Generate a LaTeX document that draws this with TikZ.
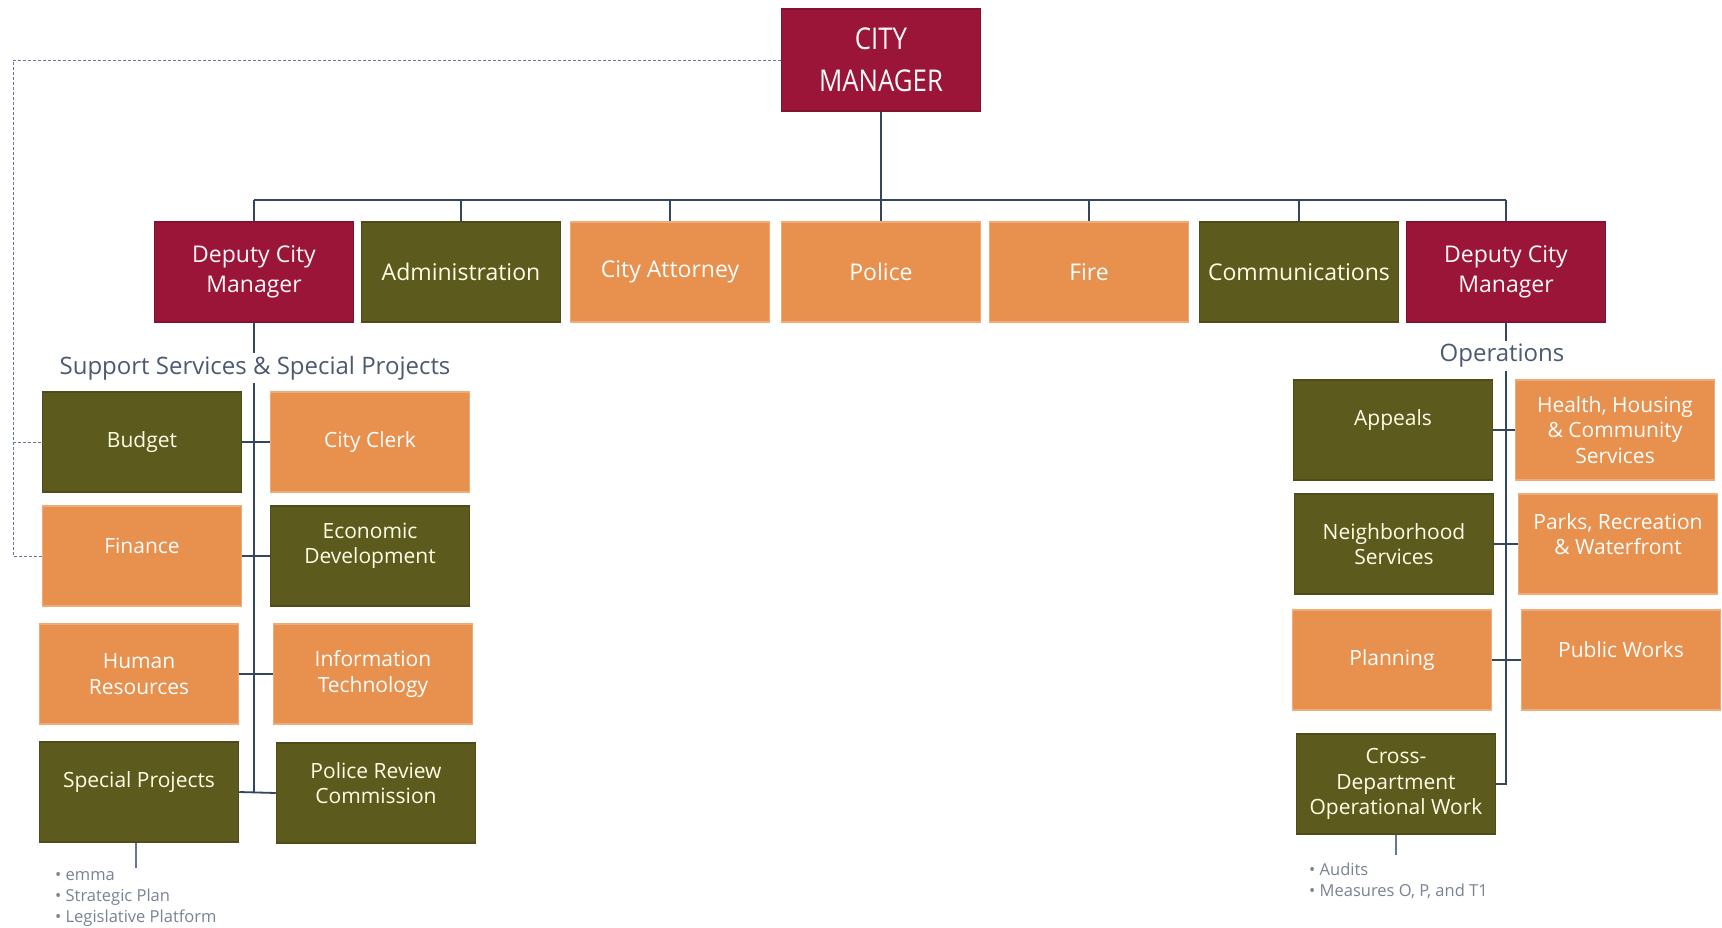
\documentclass[tikz,border=0pt]{standalone}
\usepackage{fontspec}
\setmainfont{Open Sans}
\newfontfamily\cmfont[FakeStretch=0.86]{Open Sans}

\definecolor{cmred}{HTML}{9A1538}
\definecolor{cmolive}{HTML}{5C5A1C}
\definecolor{cmorange}{HTML}{E8904E}
\definecolor{cmline}{HTML}{34465E}
\definecolor{cmdash}{HTML}{64769A}
\definecolor{cmtext}{HTML}{4C5A70}

% text a little above the middle of its box
\newcommand{\liftup}[1]{\raisebox{10pt}[\height][\depth]{#1}}

\tikzset{
  unitbox/.style={minimum width=199pt, minimum height=100pt, inner sep=2pt,
    align=center, line width=1.5pt, font=\fontsize{21}{25.5}\selectfont},
  toprow/.style={font=\fontsize{23}{30}\selectfont},
  redbox/.style={unitbox, fill=cmred, draw=cmred!85!black, text=white!92!pink},
  olivebox/.style={unitbox, fill=cmolive, draw=cmolive!85!black, text=yellow!10!white},
  orangebox/.style={unitbox, fill=cmorange, draw=cmorange!75!white, text=white},
  link/.style={draw=cmline, line width=1.8pt},
  dotlink/.style={draw=cmdash, densely dashed, line width=1pt},
  heading/.style={text=cmtext, font=\fontsize{24}{28}\selectfont, fill=white, inner sep=3pt},
  notes/.style={text=cmtext!75, font=\fontsize{16.5}{21}\selectfont, align=left,
    anchor=north west, inner sep=0pt}
}

\begin{document}
\begin{tikzpicture}[x=1pt,y=-1pt]
\useasboundingbox[fill=white] (0,0) rectangle (1722,927);

% city manager and top row
\node[redbox, minimum height=102pt, font=\cmfont\fontsize{30}{42}\selectfont] (city) at (881,60) {CITY\\MANAGER};
\node[redbox, toprow] (dcmL) at (254,272) {Deputy City\\Manager};
\node[olivebox, toprow] (admin) at (461,272) {Administration};
\node[orangebox, toprow] (attorney) at (670,272) {City Attorney};
\node[orangebox, toprow] (police) at (881,272) {Police};
\node[orangebox, toprow] (fire) at (1089,272) {Fire};
\node[olivebox, toprow] (comms) at (1299,272) {Communications};
\node[redbox, toprow] (dcmR) at (1506,272) {Deputy City\\Manager};

% support services
\node[olivebox] (budget) at (142,442) {Budget};
\node[orangebox] (clerk) at (370,442) {City Clerk};
\node[orangebox] (finance) at (142,556) {\liftup{Finance}};
\node[olivebox] (econ) at (370,556) {\liftup{Economic}\\\liftup{Development}};
\node[orangebox] (hr) at (139,674) {Human\\Resources};
\node[orangebox] (it) at (373,674) {Information\\Technology};
\node[olivebox] (special) at (139,792) {\liftup{Special Projects}};
\node[olivebox] (prc) at (376,793) {\liftup{Police Review}\\\liftup{Commission}};

% operations
\node[olivebox] (appeals) at (1393,430) {\liftup{Appeals}};
\node[orangebox] (hhcs) at (1615,430) {Health, Housing\\\& Community\\Services};
\node[olivebox] (nbhd) at (1394,544) {Neighborhood\\Services};
\node[orangebox] (parks) at (1618,544) {\liftup{Parks, Recreation}\\\liftup{\& Waterfront}};
\node[orangebox] (planning) at (1392,660) {Planning};
\node[orangebox] (pw) at (1621,660) {\liftup{Public Works}};
\node[olivebox] (cross) at (1396,784) {Cross-\\Department\\Operational Work};

% tree lines
\coordinate (busL) at (dcmL.north |- 0,200);
\coordinate (busR) at (dcmR.north |- 0,200);
\draw[link] (city.south) -- (police.north);
\draw[link] (busL) -- (busR);
\foreach \n in {dcmL,admin,attorney,fire,comms,dcmR}
  \draw[link] (\n.north |- busL) -- (\n.north);

\draw[link] (dcmL.south) -- (dcmL.south |- special.east);
\foreach \a/\b in {budget/clerk,finance/econ,hr/it,special/prc}
  \draw[link] (\a.east) -- (\b.west);

\draw[link] (dcmR.south) -- (dcmR.south |- cross.east) -- (cross.east);
\foreach \a/\b in {appeals/hhcs,nbhd/parks,planning/pw}
  \draw[link] (\a.east) -- (\b.west);

% dashed reporting line
\coordinate (dashtop) at (13,60);
\draw[dotlink] (city.west) -- (dashtop) |- (finance.west);
\draw[dotlink] (dashtop |- budget.west) -- (budget.west);

% headings
\node[heading] (support) at (255,368) {Support Services \& Special Projects};
\node[heading] (ops) at (1502,356) {Operations};

% notes
\coordinate (specialnote) at (136,868);
\draw[link, line width=1.2pt, draw=cmdash] (special.south -| specialnote) -- (specialnote);
\node[notes] (specialitems) at (55,871) {\textbullet\ emma\\\textbullet\ Strategic Plan\\\textbullet\ Legislative Platform};
\coordinate (crossnote) at (1396,855);
\draw[link, line width=1.2pt, draw=cmdash] (cross.south) -- (crossnote);
\node[notes] (crossitems) at (1309,863) {\textbullet\ Audits\\\textbullet\ Measures O, P, and T1};
\end{tikzpicture}
\end{document}
